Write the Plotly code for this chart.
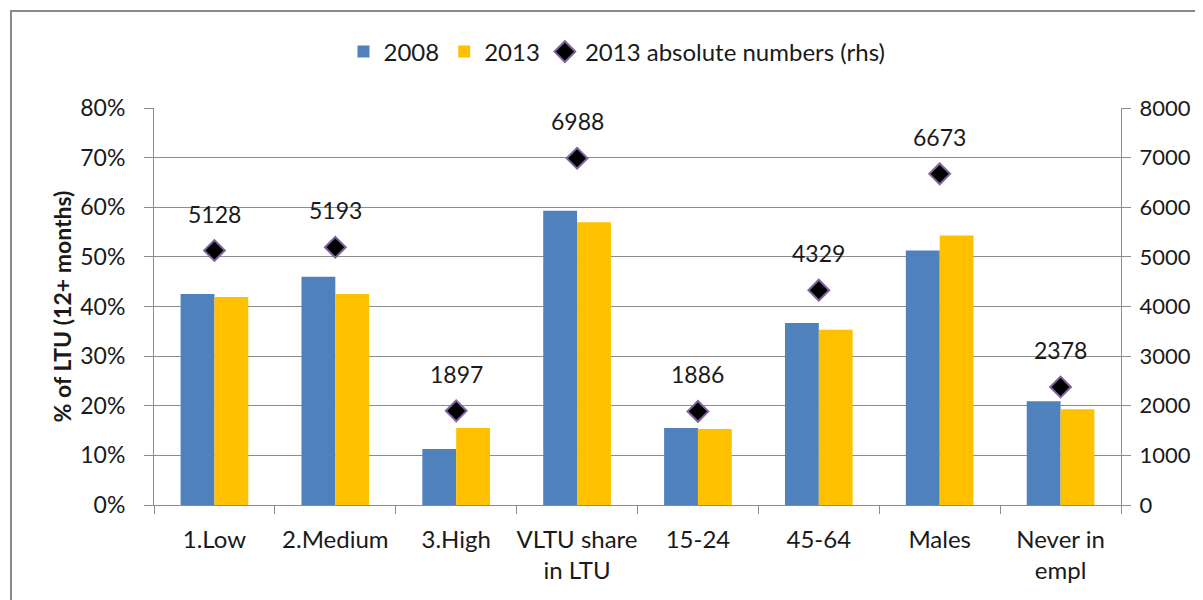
import plotly.graph_objects as go

categories = ["1.Low", "2.Medium", "3.High", "VLTU share<br>in LTU", "15-24", "45-64", "Males", "Never in<br>empl"]
share_2008 = [42.5, 46.0, 11.3, 59.3, 15.5, 36.7, 51.3, 20.9]
share_2013 = [41.9, 42.5, 15.5, 57.0, 15.3, 35.3, 54.3, 19.3]
abs_2013 = [5128, 5193, 1897, 6988, 1886, 4329, 6673, 2378]

FONT = "Lato, 'Open Sans', sans-serif"
TXT = "#1a1a1a"
GRID = "#8c8c8c"

fig = go.Figure()
fig.add_trace(go.Bar(x=categories, y=share_2008, name="2008", marker=dict(color="#4F81BD", line=dict(width=0))))
fig.add_trace(go.Bar(x=categories, y=share_2013, name="2013", marker=dict(color="#FFC000", line=dict(width=0))))
fig.add_trace(go.Scatter(x=categories, y=abs_2013, name="2013 absolute numbers (rhs)", yaxis="y2",
                         mode="markers",
                         marker=dict(symbol="diamond", size=16, color="black",
                                     line=dict(color="#8064A2", width=2))))

for c, v in zip(categories, abs_2013):
    fig.add_annotation(x=c, y=v, yref="y2", text=str(v), showarrow=False,
                       yshift=37, font=dict(size=23, color=TXT, family=FONT))

# page body has an 8px margin; work in figure coordinates and avoid scrollbars
OFF = 8
W, H = 1203 - 2 * OFF, 600 - OFF
L, T = 154 - OFF, 108 - OFF
R = W - (1121 - OFF)
B = H - (505 - OFF)
pw, ph = W - L - R, H - T - B

def px_x(p):
    return (p - OFF - L) / pw

def px_y(p):
    return (H - B - (p - OFF)) / ph

fig.add_shape(type="rect", xref="paper", yref="paper",
              x0=px_x(11), x1=px_x(1240), y0=px_y(640), y1=px_y(11),
              line=dict(color="#8a8a8a", width=2), fillcolor="rgba(0,0,0,0)", layer="below")

fig.update_layout(
    width=W, height=H,
    margin=dict(l=L, r=R, t=T, b=B, autoexpand=False),
    paper_bgcolor="white", plot_bgcolor="white",
    barmode="group", bargap=0.44, bargroupgap=0,
    font=dict(family=FONT, size=23, color=TXT),
    legend=dict(orientation="h", x=px_x(617), xanchor="center", y=px_y(52), yanchor="middle",
                font=dict(size=24, color=TXT, family=FONT), itemwidth=30,
                bgcolor="rgba(0,0,0,0)"),
    xaxis=dict(type="category", tickson="boundaries", ticks="outside", ticklen=8, tickcolor=GRID,
               showline=True, linecolor=GRID, linewidth=1, showgrid=False, ticklabelstandoff=13,
               tickangle=0, automargin=False,
               tickfont=dict(size=24, color=TXT, family=FONT)),
    yaxis=dict(range=[0, 80], dtick=10, ticksuffix="%", showgrid=True, gridcolor=GRID, gridwidth=1,
               ticks="outside", ticklen=9, tickcolor=GRID, showline=True, linecolor=GRID, linewidth=1,
               zeroline=False, ticklabelstandoff=14, automargin=False,
               title=dict(text="<b>% of LTU (12+ months)</b>", font=dict(size=23, color=TXT, family=FONT), standoff=2),
               tickfont=dict(size=23, color=TXT, family=FONT)),
    yaxis2=dict(range=[0, 8000], dtick=1000, overlaying="y", side="right", showgrid=False,
                tickformat="d", ticks="outside", ticklen=9, tickcolor=GRID, ticklabelstandoff=4,
                showline=True, linecolor=GRID, linewidth=1, zeroline=False, automargin=False,
                tickfont=dict(size=22, color=TXT, family=FONT)),
    showlegend=True,
)

fig.write_html("out.html")
